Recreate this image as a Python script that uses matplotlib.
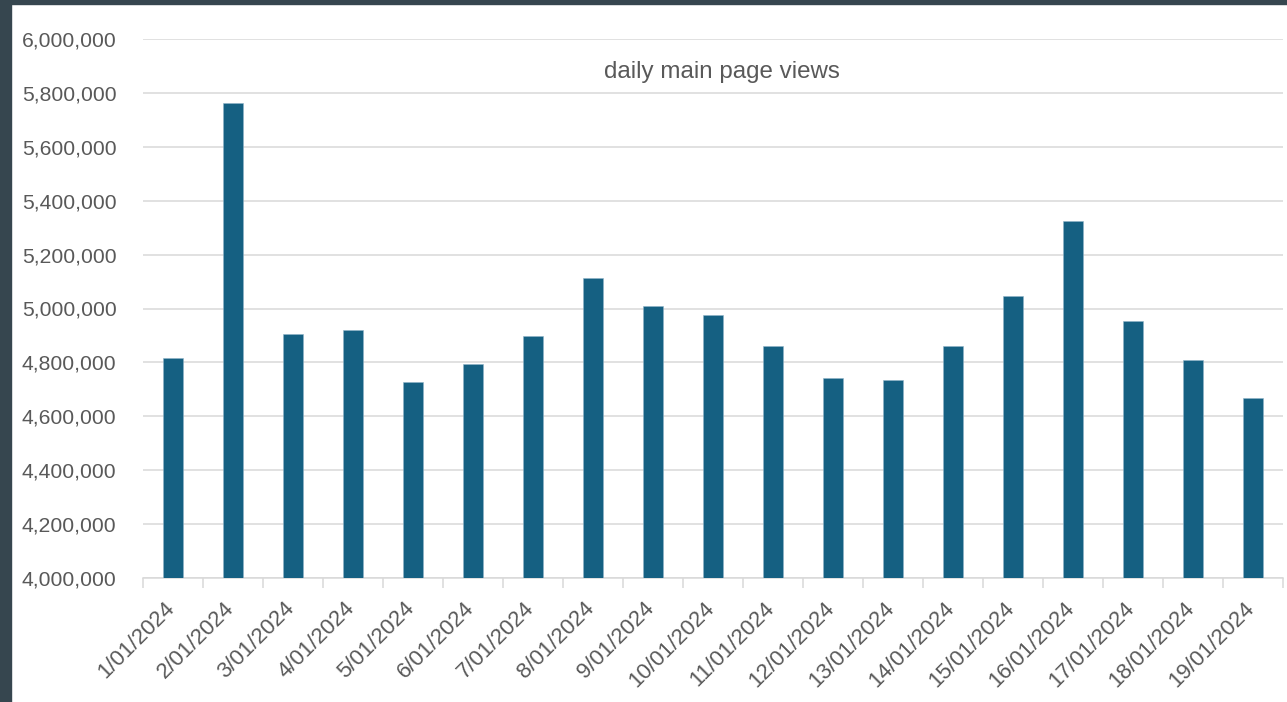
import matplotlib.pyplot as plt
from matplotlib.patches import Rectangle
from matplotlib.ticker import FuncFormatter, FixedLocator
from matplotlib.transforms import ScaledTranslation

# daily main page views, January 2024
dates = ['1/01/2024', '2/01/2024', '3/01/2024', '4/01/2024', '5/01/2024',
         '6/01/2024', '7/01/2024', '8/01/2024', '9/01/2024', '10/01/2024',
         '11/01/2024', '12/01/2024', '13/01/2024', '14/01/2024', '15/01/2024',
         '16/01/2024', '17/01/2024', '18/01/2024', '19/01/2024']
views = [4815600, 5763600, 4906000, 4920000, 4727500,
         4794000, 4898500, 5114000, 5010000, 4975500,
         4859000, 4743500, 4734000, 4859000, 5046000,
         5323000, 4954000, 4810000, 4667000]
y_ticks = [4000000, 4200000, 4400000, 4600000, 4800000,
           5000000, 5200000, 5400000, 5600000, 5800000, 6000000]

plt.rcParams['font.family'] = ['Liberation Sans', 'DejaVu Sans']
W, H = 1287, 702
fig = plt.figure(figsize=(W / 100, H / 100), dpi=100)
fig.patch.set_facecolor('white')

# dark frame on the left and top
fig.patches.append(Rectangle((0, 0), 11 / W, 1, transform=fig.transFigure,
                             color='#36464f', zorder=0))
fig.patches.append(Rectangle((0, 1 - 4 / H), 1, 4 / H, transform=fig.transFigure,
                             color='#36464f', zorder=0))

ax = fig.add_axes([143 / W, 1 - 578 / H, 1140 / W, 539 / H])
x = list(range(len(dates)))
ax.bar(x, views, width=0.32, color='#156082', edgecolor='#8fb3c8', linewidth=0.4, zorder=3)

ax.set_xlim(-0.5, len(dates) - 0.5)
ax.set_ylim(4000000, 6000000)
ax.set_yticks(y_ticks)
ax.yaxis.set_major_formatter(FuncFormatter(lambda v, p: f'{int(v):,}'))
ax.grid(axis='y', color='#d9d9d9', linewidth=1.1, zorder=0)

ax.set_xticks(x)
ax.set_xticklabels(dates, rotation=45, ha='right', rotation_mode='anchor')
ax.xaxis.set_minor_locator(FixedLocator([i - 0.5 for i in range(len(dates) + 1)]))
ax.tick_params(axis='x', which='major', length=0, pad=14, labelsize=16, labelcolor='#595959')
ax.tick_params(axis='x', which='minor', length=7, width=1.1, color='#d9d9d9')
ax.tick_params(axis='y', length=0, pad=19, labelsize=15.2, labelcolor='#595959')

shift = ScaledTranslation(-9 / 100, 0, fig.dpi_scale_trans)
for lbl in ax.get_xticklabels():
    lbl.set_transform(lbl.get_transform() + shift)

for s in ['top', 'right', 'left']:
    ax.spines[s].set_visible(False)
ax.spines['bottom'].set_color('#d9d9d9')
ax.spines['bottom'].set_linewidth(1.1)

fig.text(722 / W, 1 - 72 / H, 'daily main page views', ha='center', va='center',
         fontsize=17.4, color='#595959')

fig.savefig('out.png', dpi=100)
